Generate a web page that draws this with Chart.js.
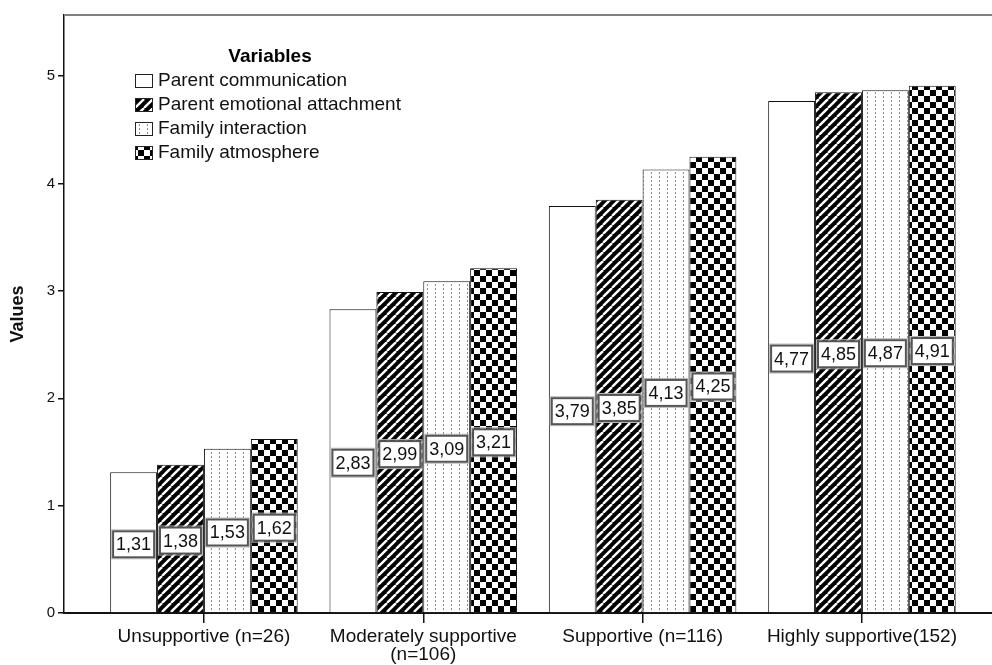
<!DOCTYPE html>
<html>
<head>
<meta charset="utf-8">
<script src="https://cdn.jsdelivr.net/npm/chart.js@4.4.1/dist/chart.umd.min.js"></script>
<style>
  body { margin: 0; background: #fff; }
  canvas { display: block; }
</style>
</head>
<body>
<canvas id="chart" width="992" height="665"></canvas>
<script>
const categories = [['Unsupportive (n=26)'], ['Moderately supportive', '(n=106)'], ['Supportive (n=116)'], ['Highly supportive(152)']];
const seriesNames = ['Parent communication', 'Parent emotional attachment', 'Family interaction', 'Family atmosphere'];
const parentCommunication = [1.31, 2.83, 3.79, 4.77];
const parentAttachment = [1.38, 2.99, 3.85, 4.85];
const familyInteraction = [1.53, 3.09, 4.13, 4.87];
const familyAtmosphere = [1.62, 3.21, 4.25, 4.91];
const yTicks = [0, 1, 2, 3, 4, 5];

const FONT = "'Liberation Sans', Arial, sans-serif";

// small canvas tiles turned into fill patterns
function makePattern(w, h, paint) {
    const c = document.createElement('canvas');
    c.width = w;
    c.height = h;
    const g = c.getContext('2d');
    paint(g, w, h);
    return document.getElementById('chart').getContext('2d').createPattern(c, 'repeat');
}

const plain = '#ffffff';
const stripes = makePattern(9, 9, (g, w, h) => {
    g.fillStyle = '#000';
    g.fillRect(0, 0, w, h);
    g.strokeStyle = '#fff';
    g.lineWidth = 2.4;
    for (let k = -w; k <= w; k += w) {
        g.beginPath();
        g.moveTo(k, h);
        g.lineTo(k + w, 0);
        g.stroke();
    }
});
const dots = makePattern(8, 4, (g, w, h) => {
    g.fillStyle = '#fff';
    g.fillRect(0, 0, w, h);
    g.fillStyle = '#8a8a8a';
    g.fillRect(3, 0, 1, 2);
});
const checker = makePattern(12, 12, (g, w, h) => {
    g.fillStyle = '#fff';
    g.fillRect(0, 0, w, h);
    g.fillStyle = '#000';
    g.fillRect(0, 0, 6, 6);
    g.fillRect(6, 6, 6, 6);
});
const fills = [plain, stripes, dots, checker];

const seriesValues = [parentCommunication, parentAttachment, familyInteraction, familyAtmosphere];
const datasets = seriesValues.map((vals, s) => ({
    label: seriesNames[s],
    data: vals.map((v, i) => ({ x: i, y: v })),
    backgroundColor: fills[s],
    borderColor: '#111',
    borderWidth: 1,
    categoryPercentage: 0.855,
    barPercentage: 1.0
}));

// top frame line and the legend box
const framePlugin = {
    id: 'frame',
    afterDraw(chart) {
        const { ctx, chartArea } = chart;
        ctx.save();
        ctx.strokeStyle = '#808080';
        ctx.lineWidth = 2;
        ctx.beginPath();
        ctx.moveTo(chartArea.left, chartArea.top);
        ctx.lineTo(chartArea.right, chartArea.top);
        ctx.stroke();

        ctx.fillStyle = '#000';
        ctx.font = 'bold 19px ' + FONT;
        ctx.textAlign = 'center';
        ctx.textBaseline = 'middle';
        ctx.fillText('Variables', 270, 57);

        ctx.font = '19px ' + FONT;
        ctx.textAlign = 'left';
        seriesNames.forEach((name, i) => {
            const cy = 81 + i * 24;
            ctx.fillStyle = fills[i];
            ctx.fillRect(135, cy - 7, 18, 14);
            ctx.strokeStyle = '#222';
            ctx.lineWidth = 1;
            ctx.strokeRect(135.5, cy - 6.5, 17, 13);
            ctx.fillStyle = '#111';
            ctx.fillText(name, 158, cy);
        });
        ctx.restore();
    }
};

// boxed value labels in the middle of each bar
const valueLabels = {
    id: 'valueLabels',
    afterDatasetsDraw(chart) {
        const { ctx } = chart;
        ctx.save();
        ctx.font = '18px ' + FONT;
        ctx.textAlign = 'center';
        ctx.textBaseline = 'middle';
        chart.data.datasets.forEach((ds, s) => {
            chart.getDatasetMeta(s).data.forEach((bar, i) => {
                const txt = ds.data[i].y.toFixed(2).replace('.', ',');
                const w = ctx.measureText(txt).width + 6;
                const h = 26;
                const cx = bar.x;
                const cy = (bar.y + bar.base) / 2 + 2;
                ctx.fillStyle = '#fff';
                ctx.fillRect(cx - w / 2, cy - h / 2, w, h);
                ctx.strokeStyle = '#bbb';
                ctx.lineWidth = 1;
                ctx.strokeRect(cx - w / 2 - 1.5, cy - h / 2 - 1.5, w + 3, h + 3);
                ctx.strokeStyle = '#555';
                ctx.lineWidth = 2;
                ctx.strokeRect(cx - w / 2, cy - h / 2, w, h);
                ctx.fillStyle = '#111';
                ctx.fillText(txt, cx, cy + 1);
            });
        });
        ctx.restore();
    }
};

new Chart(document.getElementById('chart'), {
    type: 'bar',
    data: { datasets: datasets },
    plugins: [framePlugin, valueLabels],
    options: {
        responsive: false,
        animation: false,
        layout: { padding: { top: 15, right: 0, left: 0, bottom: 0 } },
        plugins: {
            legend: { display: false },
            tooltip: { enabled: false }
        },
        scales: {
            x: {
                type: 'linear',
                offset: false,
                min: -0.638,
                max: 3.593,
                afterBuildTicks: (scale) => {
                    scale.ticks = categories.map((c, i) => ({ value: i }));
                },
                afterFit: (scale) => { scale.height = 52; },
                grid: {
                    offset: false,
                    drawOnChartArea: false,
                    drawTicks: true,
                    tickLength: 10,
                    color: '#111',
                    lineWidth: 1.5
                },
                border: { color: '#111', width: 2 },
                ticks: {
                    color: '#111',
                    padding: 5,
                    autoSkip: false,
                    maxRotation: 0,
                    font: { family: FONT, size: 19, lineHeight: 0.95 },
                    callback: (v) => categories[v]
                }
            },
            y: {
                min: 0,
                max: 5.57,
                afterBuildTicks: (scale) => {
                    scale.ticks = yTicks.map(v => ({ value: v }));
                },
                afterFit: (scale) => { scale.width = 64; },
                grid: {
                    drawOnChartArea: false,
                    drawTicks: true,
                    tickLength: 6,
                    color: '#111',
                    lineWidth: 1.5
                },
                border: { color: '#111', width: 1.5 },
                ticks: {
                    color: '#111',
                    padding: 3,
                    font: { family: FONT, size: 15 }
                },
                title: {
                    display: true,
                    text: 'Values',
                    color: '#111',
                    padding: { top: 7, bottom: 0 },
                    font: { family: FONT, size: 18, weight: 'bold' }
                }
            }
        }
    }
});
</script>
</body>
</html>
